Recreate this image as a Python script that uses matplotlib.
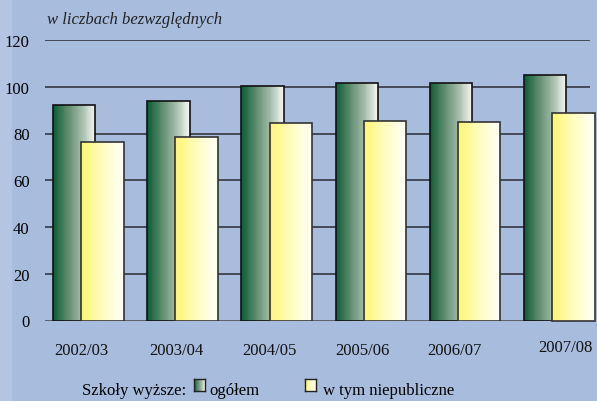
import numpy as np
import matplotlib
matplotlib.use("Agg")
import matplotlib.pyplot as plt
from matplotlib.colors import LinearSegmentedColormap
from matplotlib.patches import Rectangle

# data
years = ["2002/03", "2003/04", "2004/05", "2005/06", "2006/07", "2007/08"]
ogolem = [92.3, 94.0, 100.2, 101.5, 101.4, 104.9]
niepubliczne = [76.3, 78.4, 84.4, 85.2, 85.0, 88.6]
yticks = [0, 20, 40, 60, 80, 100, 120]

BG = "#a8bcdd"
green_cm = LinearSegmentedColormap.from_list("g", ["#0b5f34", "#5d8a6c", "#9fb9a6", "#f4f6f2"])
yellow_cm = LinearSegmentedColormap.from_list("y", ["#fff570", "#fffcc0", "#fffff8"])
grad = np.linspace(0, 1, 256).reshape(1, -1)

plt.rcParams["font.family"] = ["Liberation Serif", "DejaVu Serif"]

W, H = 597, 402
fig = plt.figure(figsize=(W / 100, H / 100), dpi=100)
fig.patch.set_facecolor(BG)
fig.patches.append(Rectangle((0, 0), 11 / W, 1, transform=fig.transFigure,
                             color="#b3c5e3", zorder=-5))

ax = fig.add_axes([45 / W, 80.5 / H, 545 / W, 280.5 / H])
ax.set_facecolor(BG)
ax.patch.set_alpha(0)

x = np.arange(len(years))
bw = 0.45
shift = 0.3
NSLICE = 48


def grad_bar(x0, h, cmap, edge, z, clip=True):
    # gradient made of thin vertical slices
    t = np.linspace(0, 1, NSLICE)
    xs = x0 + t * bw * (NSLICE - 1) / NSLICE
    bars = ax.bar(xs, h, width=bw / NSLICE * 1.05, align="edge", color=cmap(t),
                  linewidth=0, antialiased=False, zorder=z)
    r = Rectangle((x0, 0), bw, h, fill=False, edgecolor=edge, lw=1.2, zorder=z + 0.5)
    ax.add_patch(r)
    if not clip:
        for b in bars:
            b.set_clip_on(False)
        r.set_clip_on(False)


for i in x:
    grad_bar(i - 0.425, ogolem[i], green_cm, "#111111", 2)
for i in x:
    grad_bar(i - 0.425 + shift, niepubliczne[i], yellow_cm, "#333333", 3,
             clip=(i < len(years) - 1))

ax.set_xlim(-0.51, 5.276)
ax.set_ylim(0, 120)

for t in yticks[1:]:
    ax.axhline(t, color="#2a2a35", lw=1.1, zorder=1)
ax.axhline(0, color="#555560", lw=2, zorder=1)

for s in ax.spines.values():
    s.set_visible(False)
ax.set_yticks(yticks)
ax.tick_params(axis="y", length=0, pad=11, labelsize=12)
ax.set_xticks([])

# category labels under the bars
label_dx = [-0.12, -0.12, -0.13, -0.14, -0.16, 0.01]
label_dy = [0, 0, 0, 0, 0, 0.01]
for i, lab in enumerate(years):
    ax.text(i + label_dx[i], -0.105 + label_dy[i], lab, transform=ax.get_xaxis_transform(),
            ha="center", va="center", fontsize=12, color="#111111")

fig.text(47 / W, 1 - 20 / H, "w liczbach bezwzględnych", style="italic",
         fontsize=12, va="center", ha="left", color="#222222")

# legend
ly = 1 - 391 / H
fig.text(82 / W, ly, "Szkoły wyższe:", fontsize=12, va="center", ha="left")


def legend_box(px, cmap):
    lax = fig.add_axes([px / W, 1 - 392 / H, 11 / W, 12 / H])
    lax.imshow(grad, cmap=cmap, aspect="auto", interpolation="bilinear")
    lax.set_xticks([])
    lax.set_yticks([])
    for s in lax.spines.values():
        s.set_color("#222222")
        s.set_linewidth(1)


legend_box(194, green_cm)
fig.text(209 / W, ly, "ogółem", fontsize=12, va="center", ha="left")
legend_box(305, yellow_cm)
fig.text(323 / W, ly, "w tym niepubliczne", fontsize=12, va="center", ha="left")

fig.savefig("out.png", dpi=100, facecolor=BG)
